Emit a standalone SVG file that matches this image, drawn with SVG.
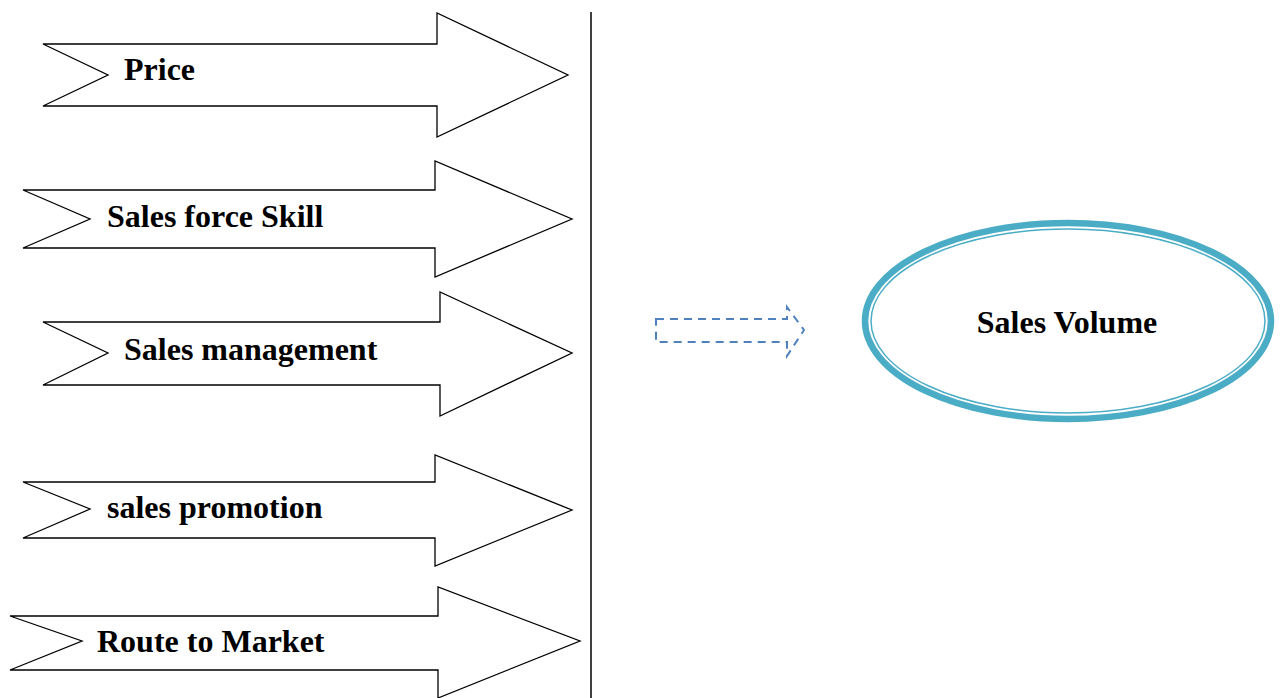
<svg xmlns="http://www.w3.org/2000/svg" width="1280" height="698" viewBox="0 0 1280 698">
<style>
.arr{fill:#fff;stroke:#000;stroke-width:1.3;stroke-linejoin:miter}
.lbl{font-family:"Liberation Serif","Times New Roman",serif;font-weight:bold;font-size:32px;fill:#000}
.dash{fill:none;stroke:#4f81bd;stroke-width:2;stroke-dasharray:8,6}
</style>
<rect width="1280" height="698" fill="#fff"/>
<g id="price">
<polygon class="arr" points="43,44 437,44 437,13 568,75 437,137 437,106 43,106 108,75"/>
<text class="lbl" x="124" y="80">Price</text>
</g>
<g id="salesforce">
<polygon class="arr" points="23,190 435,190 435,161 572,219 435,277 435,248 23,248 90,219"/>
<text class="lbl" x="107" y="227">Sales force Skill</text>
</g>
<g id="salesmgmt">
<polygon class="arr" points="43,322 440,322 440,292 572,353 440,416 440,385 43,385 108,353"/>
<text class="lbl" x="124" y="360">Sales management</text>
</g>
<g id="promotion">
<polygon class="arr" points="23,482 435,482 435,455 572,510 435,566 435,538 23,538 90,509"/>
<text class="lbl" x="107" y="518">sales promotion</text>
</g>
<g id="route">
<polygon class="arr" points="10,616 438,616 438,587 580,641 438,698 438,670 10,670 82,641"/>
<text class="lbl" x="97" y="652">Route to Market</text>
</g>
<g id="divider">
<line x1="591" y1="12" x2="591" y2="698" stroke="#000" stroke-width="1.5"/>
</g>
<g id="connectors">
<polygon class="dash" points="656,319 787,319 787,307 804,330 787,356 787,342 656,342"/>
</g>
<g id="salesvolume">
<ellipse cx="1068" cy="321" rx="203" ry="98" fill="#fff" stroke="#4bacc6" stroke-width="6.5"/>
<ellipse cx="1068" cy="321" rx="197" ry="92" fill="none" stroke="#4bacc6" stroke-width="1.5"/>
<text class="lbl" x="1067" y="333" text-anchor="middle">Sales Volume</text>
</g>
</svg>
